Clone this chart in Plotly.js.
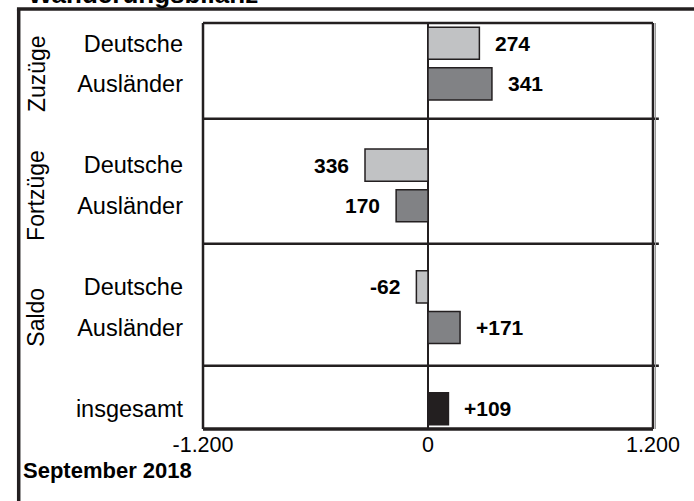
<!DOCTYPE html>
<html>
<head>
<meta charset="utf-8">
<script src="https://cdn.plot.ly/plotly-3.0.1.min.js"></script>
<style>html,body{margin:0;padding:0;background:#fff;}#chart{width:694px;height:501px;}</style>
</head>
<body>
<div id="chart"></div>
<script>
// ---- data ----
const groups = ['Zuzüge', 'Fortzüge', 'Saldo'];
const rowNames = ['Deutsche', 'Ausländer'];
const deutsche = [274, -336, -62];
const auslaender = [341, -170, 171];
const deutscheLabels = ['274', '336', '-62'];
const auslaenderLabels = ['341', '170', '+171'];
const totalName = 'insgesamt';
const totalValue = [109];
const totalLabel = ['+109'];
const xTickVals = [-1200, 0, 1200];
const xTickText = ['-1.200', '0', '1.200'];
const footer = 'September 2018';
const chartTitle = 'Wanderungsbilanz';

// ---- derived slots ----
const dSlots = groups.map((g, i) => i * 3);
const aSlots = groups.map((g, i) => i * 3 + 1);
const tSlot = [groups.length * 3];
const tickVals = [];
const tickText = [];
groups.forEach((g, i) => {
  tickVals.push(dSlots[i], aSlots[i]);
  tickText.push(rowNames[0], rowNames[1]);
});
tickVals.push(tSlot[0]);
tickText.push(totalName);

const FONT = '"Liberation Sans", Arial, sans-serif';
const INK = '#231f20';
const barLine = {color: INK, width: 1.5};
const barWidth = 0.79;

const traces = [
  {type: 'bar', orientation: 'h', x: deutsche, y: dSlots, width: barWidth,
   marker: {color: '#c1c2c4', line: barLine}, hoverinfo: 'x'},
  {type: 'bar', orientation: 'h', x: auslaender, y: aSlots, width: barWidth,
   marker: {color: '#818285', line: barLine}, hoverinfo: 'x'},
  {type: 'bar', orientation: 'h', x: totalValue, y: tSlot, width: barWidth,
   marker: {color: '#231f20', line: barLine}, hoverinfo: 'x'}
];

const annotations = [];
function addValueLabels(vals, slots, labels) {
  vals.forEach((v, i) => {
    annotations.push({
      x: v, y: slots[i], xref: 'x', yref: 'y', text: labels[i], showarrow: false,
      xanchor: v >= 0 ? 'left' : 'right', xshift: v >= 0 ? 14 : -14,
      font: {family: FONT, size: 21, color: '#000', weight: 'bold'}
    });
  });
}
addValueLabels(deutsche, dSlots, deutscheLabels);
addValueLabels(auslaender, aSlots, auslaenderLabels);
addValueLabels(totalValue, tSlot, totalLabel);

groups.forEach((g, i) => {
  annotations.push({
    x: -0.37, xref: 'paper', y: (dSlots[i] + aSlots[i]) / 2, yref: 'y',
    text: g, showarrow: false, textangle: -90, xanchor: 'center', yanchor: 'middle',
    yshift: -10, font: {family: FONT, size: 23, color: '#000'}
  });
});

annotations.push({
  x: (21 - 203) / 450, xref: 'paper', xanchor: 'left',
  y: (429.3 - 471) / 406, yref: 'paper', yanchor: 'middle',
  text: footer, showarrow: false,
  font: {family: FONT, size: 22, color: '#000', weight: 'bold'}
});
annotations.push({
  x: (26 - 203) / 450, xref: 'paper', xanchor: 'left',
  y: 1, yref: 'paper', yanchor: 'bottom', yshift: 11.5,
  text: chartTitle, showarrow: false,
  font: {family: FONT, size: 26, color: '#000', weight: 'bold'}
});

const sepY = [1.86, 4.94, 7.94];
const shapes = [];
sepY.forEach(y => shapes.push({type: 'line', xref: 'paper', yref: 'y', x0: 0, x1: 1.013, y0: y, y1: y,
  line: {color: INK, width: 2.5}}));
// plot box
shapes.push({type: 'line', xref: 'paper', yref: 'paper', x0: 0, x1: 1, y0: 1, y1: 1, line: {color: INK, width: 2.5}});
shapes.push({type: 'line', xref: 'paper', yref: 'paper', x0: 0, x1: 1, y0: 0, y1: 0, line: {color: INK, width: 3.5}});
shapes.push({type: 'line', xref: 'paper', yref: 'paper', x0: 0, x1: 0, y0: 0, y1: 1, line: {color: INK, width: 2.5}});
shapes.push({type: 'line', xref: 'paper', yref: 'paper', x0: 1, x1: 1, y0: 0, y1: 1, line: {color: INK, width: 2.5}});
shapes.push({type: 'line', xref: 'paper', yref: 'paper', x0: 1 + 2.5/450, x1: 1 + 2.5/450, y0: 0, y1: 1, line: {color: '#9a9a9a', width: 1}});
// outer frame
const fx = (18.7 - 203) / 450;
const fy = (429.3 - 9.3) / 406;
shapes.push({type: 'line', xref: 'paper', yref: 'paper', x0: fx - 1.75/450, x1: 1.2, y0: fy, y1: fy, line: {color: INK, width: 3.5}});
shapes.push({type: 'line', xref: 'paper', yref: 'paper', x0: fx, x1: fx, y0: fy, y1: -0.3, line: {color: INK, width: 3.5}});

const layout = {
  width: 694, height: 501,
  margin: {l: 203, r: 41, t: 23, b: 72, pad: 0},
  paper_bgcolor: '#fff', plot_bgcolor: '#fff',
  showlegend: false, barmode: 'overlay',
  font: {family: FONT, color: '#000'},
  xaxis: {
    range: [-1200, 1200], tickvals: xTickVals, ticktext: xTickText,
    showgrid: false, zeroline: true, zerolinecolor: INK, zerolinewidth: 1.5,
    showline: false, ticks: '', ticklabelstandoff: 0,
    tickfont: {family: FONT, size: 21.5, color: '#000'}, fixedrange: true
  },
  yaxis: {
    range: [9.5, -0.5], tickvals: tickVals, ticktext: tickText,
    showgrid: false, zeroline: false, showline: false, ticks: '',
    ticklabelstandoff: 19,
    tickfont: {family: FONT, size: 23.5, color: '#000'}, fixedrange: true
  },
  annotations: annotations,
  shapes: shapes
};

Plotly.newPlot('chart', traces, layout, {displayModeBar: false, staticPlot: true});
</script>
</body>
</html>
